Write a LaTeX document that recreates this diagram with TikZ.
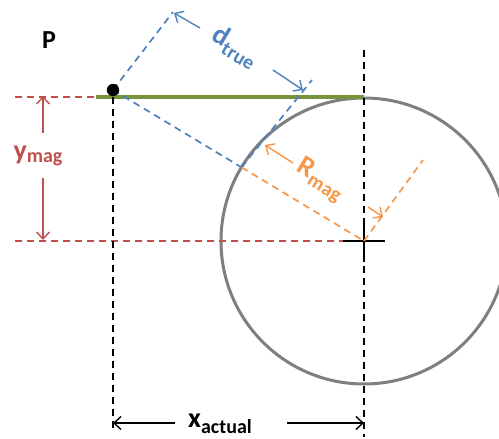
\documentclass[tikz,border=0pt]{standalone}
\usepackage{fontspec}
\setmainfont{Carlito}
\usetikzlibrary{arrows.meta,calc}
\definecolor{cred}{HTML}{C0504D}
\definecolor{cblue}{HTML}{4F81BD}
\definecolor{corange}{HTML}{F79646}
\definecolor{cgreen}{HTML}{77933C}
\definecolor{cgray}{HTML}{7F7F7F}
\newcommand\mylbl[3]{{\fontsize{28}{30}\selectfont #1}\raisebox{-#3}{\fontsize{20}{22}\selectfont #2}}
\begin{document}
\begin{tikzpicture}[x=1pt,y=-1pt,
  dsh/.style={line width=1.7pt, dash pattern=on 7pt off 5pt},
  dimarrow/.style={line width=1.4pt, -{Straight Barb[length=7pt,width=13pt,line width=1.4pt]}},
  lbl/.style={font=\bfseries, inner sep=0pt}]
\useasboundingbox (0,0) rectangle (499,439);
\clip (0,0) rectangle (499,439);
% key points
\coordinate (P) at (113,90);
\coordinate (C) at (364,241);
\coordinate (Q) at ($(C)!143pt!(P)$);
\coordinate (T) at (364,97);
% circle
\draw[cgray, line width=3pt] (C) circle[radius=143];
% red dashed guides
\coordinate (RL1) at (15,97);
\coordinate (GL) at (96,97);
\coordinate (RL2) at (15,241);
\coordinate (CrL) at (343,241);
\coordinate (CrR) at (385,241);
\draw[cred, dsh] (RL1) -- (GL);
\draw[cred, dsh] (RL2) -- (CrL);
% green line
\draw[cgreen, line width=3.8pt] (GL) -- (T);
% black dashed verticals
\coordinate (LV1) at (113,97);
\coordinate (LV2) at (113,430);
\coordinate (RV1) at (364,50);
\coordinate (RV2) at (364,437);
\draw[black, dsh] (LV1) -- (LV2);
\draw[black, dsh] (RV1) -- (RV2);
% cross
\coordinate (CrT) at (364,218);
\coordinate (CrB) at (364,262);
\draw[black, line width=1.8pt] (CrL) -- (CrR) (CrT) -- (CrB);
% blue dashed
\coordinate (E1) at (173,12);
\coordinate (E2) at (312,80);
\draw[cblue, dsh] (P) -- (Q);
\draw[cblue, dsh] (P) -- (E1);
\draw[cblue, dsh] (Q) -- (E2);
% orange dashed
\coordinate (E3) at (423,160);
\draw[corange, dsh] (Q) -- (C);
\draw[corange, dsh] (C) -- (E3);
% dot
\fill[black] (P) circle[radius=6.2];
% labels
\node[lbl] (Plbl) at (49,40) {\fontsize{26}{28}\selectfont P};
\node[lbl, text=cred] (ylbl) at (38,156) {\mylbl{y}{mag}{3pt}};
\node[lbl, text=black] (xlbl) at (220,424) {\mylbl{x}{actual}{6pt}};
\node[lbl, text=cblue, rotate=-31] (dlbl) at (235,47) {\mylbl{d}{true}{6pt}};
\node[lbl, text=corange, rotate=-31] (rlbl) at (320,180) {\mylbl{R}{mag}{6pt}};
% dimension arrows
\coordinate (Y1) at (43,96);
\coordinate (Y2) at (43,240);
\draw[cred, dimarrow] (43,133) -- (Y1);
\draw[cred, dimarrow] (43,178) -- (Y2);
\coordinate (X1) at (113,423);
\coordinate (X2) at (364,423);
\draw[black, dimarrow] (175,423) -- (X1);
\draw[black, dimarrow] (287,423) -- (X2);
\coordinate (D1) at (174,13);
\coordinate (D2) at (303,90);
\draw[cblue, dimarrow] (200,28) -- (D1);
\draw[cblue, dimarrow] (273,70) -- (D2);
\coordinate (R1) at (265,145);
\coordinate (R2) at (383,217);
\draw[corange, dimarrow] (293,163) -- (R1);
\draw[corange, dimarrow] (368,207) -- (R2);
\end{tikzpicture}
\end{document}
